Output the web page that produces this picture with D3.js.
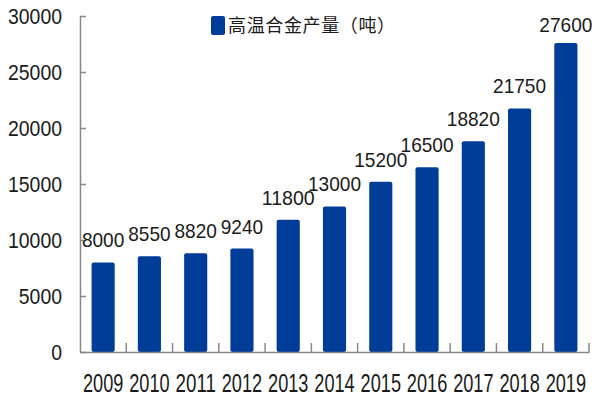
<!DOCTYPE html>
<html><head><meta charset="utf-8">
<script src="https://cdn.jsdelivr.net/npm/d3@7"></script>
<style>body{margin:0;background:#fff}svg{display:block}</style>
</head><body>
<svg id="c" width="600" height="400"></svg>
<script>
const years = ["2009","2010","2011","2012","2013","2014","2015","2016","2017","2018","2019"];
const output = [8000,8550,8820,9240,11800,13000,15200,16500,18820,21750,27600];
const yTicks = [0,5000,10000,15000,20000,25000,30000];
const seriesName = "高温合金产量（吨）";

const svg = d3.select("#c");
const x = d3.scaleBand().domain(years).range([80,589]).paddingInner(0.5).paddingOuter(0.25);
const y = d3.scaleLinear().domain([0,30000]).range([352,16]);
const numFont = "'Liberation Sans', Arial, sans-serif";
const ink = "#1a1a1a";
const fit = (sel, perChar) => sel.each(function(){
  const t = d3.select(this);
  t.attr("textLength", t.text().length*perChar).attr("lengthAdjust","spacingAndGlyphs");
});

// bars
svg.append("g").selectAll("rect").data(output).join("rect")
  .attr("x",(d,i)=>x(years[i]))
  .attr("y",d=>y(d))
  .attr("width",x.bandwidth())
  .attr("height",d=>y(0)-y(d))
  .attr("rx",2)
  .attr("fill","#003d99");

// y axis
const yAxis = d3.axisLeft(y).tickValues(yTicks).tickSizeInner(-6).tickSizeOuter(0).tickPadding(18).tickFormat(d3.format("d"));
const gy = svg.append("g").attr("transform","translate(80,0)").call(yAxis);
gy.select(".domain").attr("stroke","#888").attr("stroke-width",1.5);
gy.selectAll(".tick line").attr("stroke","#888").attr("stroke-width",1.5);
gy.selectAll(".tick text").attr("font-family",numFont).attr("font-size",22).attr("fill",ink).call(fit,10.8);

// x axis
const xAxis = d3.axisBottom(x).tickSize(0).tickPadding(0);
const gx = svg.append("g").attr("transform","translate(0,352)").call(xAxis);
gx.select(".domain").attr("stroke","#888").attr("stroke-width",1.5);
gx.selectAll(".tick text").attr("font-family",numFont).attr("font-size",25).attr("fill",ink).attr("dy",null).attr("y",40).call(fit,10.1);
// boundary ticks between categories (pointing up)
const step = x.step();
svg.append("g").selectAll("line").data(years).join("line")
  .attr("x1",(d)=>x(d)+x.bandwidth()+ (step-x.bandwidth())/2)
  .attr("x2",(d)=>x(d)+x.bandwidth()+ (step-x.bandwidth())/2)
  .attr("y1",352).attr("y2",343)
  .attr("stroke","#888").attr("stroke-width",1.5);

// value labels
svg.append("g").selectAll("text").data(output).join("text")
  .attr("x",(d,i)=>x(years[i])+x.bandwidth()/2)
  .attr("y",d=>Math.max(y(d)-15,32))
  .attr("text-anchor","middle")
  .attr("font-family",numFont).attr("font-size",21).attr("fill",ink)
  .text(d=>d).call(fit,10.6);

// legend
const lg = svg.append("g");
lg.append("rect").attr("x",211).attr("y",16).attr("width",14).attr("height",19).attr("rx",2).attr("fill","#003d99");
lg.append("text").attr("x",228).attr("y",32).attr("font-family","'Noto Sans CJK SC', sans-serif").attr("font-size",18).attr("fill",ink)
  .attr("textLength",167).attr("lengthAdjust","spacing").text(seriesName);
</script>
</body></html>
